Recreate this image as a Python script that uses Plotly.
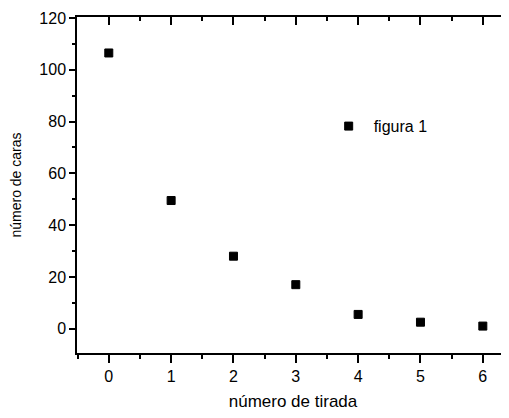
import plotly.graph_objects as go

tirada = [0, 1, 2, 3, 4, 5, 6]
caras = [106.5, 49.5, 28, 17, 5.5, 2.5, 1]
serie = "figura 1"

FONT = "Arial, Liberation Sans, sans-serif"

fig = go.Figure()
fig.add_trace(go.Scatter(
    x=tirada, y=caras, mode="markers", name=serie,
    marker=dict(symbol="square", size=8, color="black",
                line=dict(color="black", width=1)),
))
# invisible copy so the top / right mirror axes get drawn
fig.add_trace(go.Scatter(
    x=tirada, y=caras, mode="markers", xaxis="x2", yaxis="y2",
    marker=dict(opacity=0), showlegend=False, hoverinfo="skip",
))

xr = [-0.51, 6.42]
yr = [-9.4, 120.4]
common = dict(showgrid=False, zeroline=False, showline=True,
              linecolor="black", linewidth=1.5, tickcolor="black",
              tickwidth=1.5)

# page body has an 8px margin, so the figure is shrunk to fit the window
fig.update_layout(
    width=501, height=410,
    margin=dict(l=69, r=0, t=9, b=65),
    paper_bgcolor="white", plot_bgcolor="white",
    font=dict(family=FONT, size=16, color="black"),
    xaxis=dict(range=xr, dtick=1, tick0=0, ticks="outside", ticklen=8,
               minor=dict(dtick=0.5, ticks="outside", ticklen=4,
                          tickcolor="black", tickwidth=1.5),
               title=dict(text="número de tirada", standoff=11,
                          font=dict(size=17)),
               **common),
    yaxis=dict(range=yr, dtick=20, tick0=0, ticks="outside", ticklen=6,
               minor=dict(dtick=10, ticks="outside", ticklen=3,
                          tickcolor="black", tickwidth=1.5),
               title=dict(text="número de caras", standoff=15,
                          font=dict(size=14)),
               **common),
    xaxis2=dict(range=xr, dtick=1, tick0=0, ticks="inside", ticklen=8,
                overlaying="x", side="top", anchor="y2", showticklabels=False,
                minor=dict(dtick=0.5, ticks="inside", ticklen=4,
                           tickcolor="black", tickwidth=1.5),
                **common),
    yaxis2=dict(range=yr, dtick=20, tick0=0, ticks="inside", ticklen=6,
                overlaying="y", side="right", anchor="x2", showticklabels=False,
                minor=dict(dtick=10, ticks="inside", ticklen=3,
                           tickcolor="black", tickwidth=1.5),
                **common),
    showlegend=True,
    legend=dict(x=0.571, y=0.675, xanchor="left", yanchor="middle",
                itemwidth=40, bgcolor="rgba(0,0,0,0)", font=dict(size=16)),
)

fig.write_html("out.html")
